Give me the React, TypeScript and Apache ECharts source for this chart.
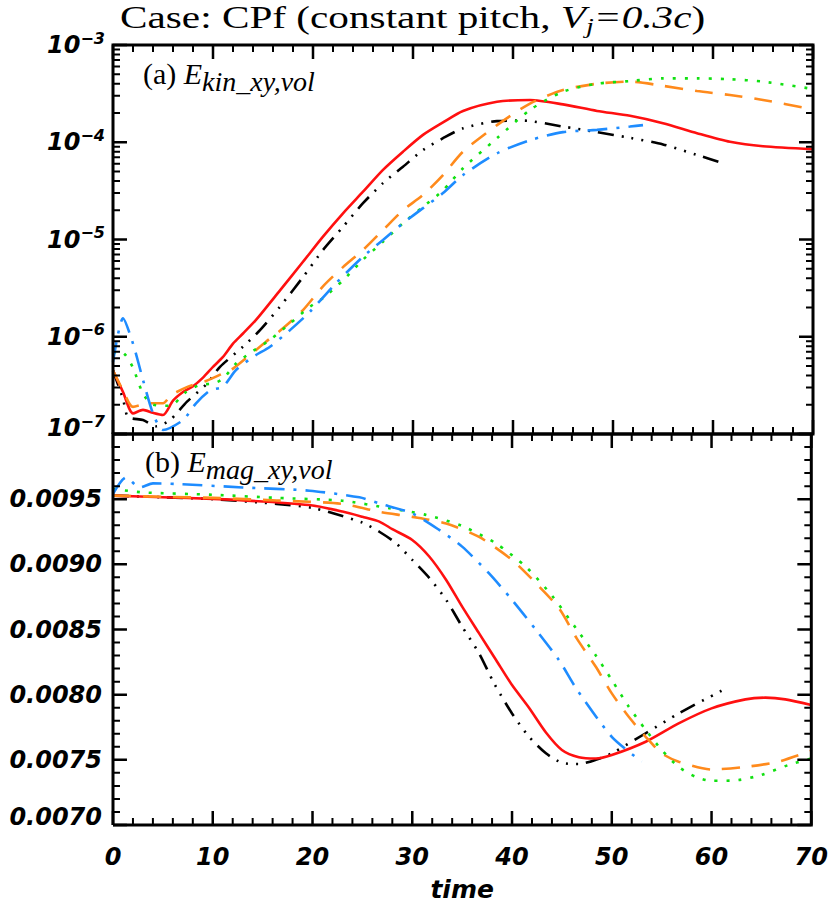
import React, { useEffect, useRef } from "react";
import * as echarts from "echarts";

// ---------- Panel (a): E_kin_xy,vol (log scale) ----------
const kinRedTime = [0, 1, 2, 3, 4, 5, 6, 7, 8, 9, 10, 11, 12, 13, 14.3, 16.7, 19, 21, 23, 25, 27, 29, 31, 33, 35, 38.4, 41.7, 45, 48.4, 51.7, 55, 58.4, 61.7, 65, 70];
const kinRed = [4.5e-7, 2.7e-7, 1.63e-7, 1.77e-7, 1.65e-7, 1.57e-7, 2.2e-7, 2.7e-7, 3.1e-7, 3.8e-7, 4.9e-7, 6.2e-7, 8.5e-7, 1.08e-6, 1.49e-6, 3.0e-6, 5.9e-6, 1.07e-5, 1.86e-5, 3.1e-5, 5.2e-5, 8.0e-5, 1.19e-4, 1.6e-4, 2.1e-4, 2.61e-4, 2.72e-4, 2.45e-4, 2.1e-4, 1.87e-4, 1.57e-4, 1.24e-4, 1.01e-4, 9.1e-5, 8.5e-5];

const kinBlackTime = [0, 1, 1.5, 3, 4.3, 5.7, 7.4, 9.4, 10.7, 13, 14.7, 16.7, 19, 21, 23, 25, 27, 29, 31, 33, 35, 38.4, 41, 45, 48.4, 51.7, 55, 58.4, 61];
const kinBlack = [4.5e-7, 2.3e-7, 1.5e-7, 1.39e-7, 1.2e-7, 1.39e-7, 2.15e-7, 3.3e-7, 4.9e-7, 7.9e-7, 1.17e-6, 2.04e-6, 4.1e-6, 7.8e-6, 1.35e-5, 2.36e-5, 3.8e-5, 5.6e-5, 8.3e-5, 1.1e-4, 1.39e-4, 1.65e-4, 1.67e-4, 1.45e-4, 1.27e-4, 1.11e-4, 9.5e-5, 7.4e-5, 6.1e-5];

const kinOrangeTime = [0, 1, 2, 3.6, 5, 5.8, 7.5, 9.3, 11, 12, 13.7, 15.3, 17, 19, 21, 23, 25, 27, 29, 31, 33, 35, 38.4, 41.7, 45, 48.4, 51.7, 55, 58.4, 61.7, 65, 70];
const kinOrange = [4.5e-7, 2.8e-7, 1.9e-7, 2.07e-7, 2.07e-7, 2.5e-7, 3.07e-7, 3.5e-7, 4.2e-7, 4.7e-7, 6.5e-7, 8.9e-7, 1.22e-6, 1.88e-6, 3.3e-6, 5.2e-6, 7.8e-6, 1.25e-5, 2.0e-5, 2.87e-5, 4.6e-5, 8.0e-5, 1.5e-4, 2.5e-4, 3.44e-4, 4.0e-4, 4.2e-4, 3.8e-4, 3.36e-4, 3.06e-4, 2.72e-4, 2.18e-4];

const kinGreenTime = [0, 0.7, 1.3, 2, 3, 4, 5.7, 7.3, 8.7, 10, 11, 12.3, 13.7, 15.7, 17.7, 19.7, 21, 23, 25, 27, 29, 31, 33, 35, 38.4, 41.7, 45, 48.4, 51.7, 55, 58.4, 61.7, 65, 70];
const kinGreen = [6.8e-7, 7.1e-7, 6.4e-7, 4.8e-7, 2.6e-7, 2.0e-7, 1.95e-7, 2.7e-7, 3.2e-7, 3.3e-7, 3.7e-7, 5.3e-7, 6.8e-7, 9.3e-7, 1.37e-6, 2.04e-6, 2.5e-6, 3.8e-6, 6.2e-6, 9.5e-6, 1.47e-5, 2.17e-5, 3.2e-5, 5.4e-5, 1.1e-4, 2.15e-4, 3.31e-4, 4.0e-4, 4.26e-4, 4.54e-4, 4.54e-4, 4.45e-4, 4.2e-4, 3.53e-4];

const kinBlueTime = [0, 1, 2, 3, 4, 5, 7, 8.3, 9.7, 11, 12.3, 14, 15.7, 17.7, 19.7, 22.3, 25, 27, 29, 31, 33, 35, 38.4, 41.7, 45, 48.4, 51.7, 53];
const kinBlue = [5.5e-7, 1.55e-6, 8.5e-7, 3.6e-7, 1.63e-7, 1.1e-7, 1.39e-7, 2.07e-7, 2.8e-7, 3.07e-7, 4.55e-7, 6.2e-7, 7.9e-7, 1.17e-6, 1.81e-6, 3.55e-6, 6.65e-6, 9.9e-6, 1.47e-5, 2.1e-5, 3.0e-5, 4.6e-5, 7.7e-5, 1.05e-4, 1.27e-4, 1.34e-4, 1.45e-4, 1.5e-4];

// ---------- Panel (b): E_mag_xy,vol (linear scale) ----------
const magRedTime = [0, 5, 10, 15, 20, 23, 25, 26.7, 28, 30, 31.7, 33.4, 35, 36.7, 38.4, 40, 41.7, 43.4, 45, 46.7, 48.4, 50, 53.4, 56.7, 60, 63.4, 65.4, 67.4, 70];
const magRed = [0.009527, 0.009515, 0.009502, 0.009482, 0.009451, 0.009405, 0.009365, 0.009328, 0.00927, 0.009187, 0.00906, 0.00888, 0.008675, 0.00847, 0.008266, 0.008074, 0.0079, 0.00771, 0.007576, 0.00752, 0.00751, 0.007537, 0.007639, 0.00778, 0.007895, 0.007964, 0.007977, 0.007964, 0.007921];

const magBlackTime = [0, 5, 10, 16.4, 20, 23, 25, 26.7, 28.4, 30, 31.7, 33.4, 35, 36.7, 38.2, 40, 41.7, 43.4, 45, 46.7, 48.4, 50, 53.4, 56.7, 61];
const magBlack = [0.009527, 0.009515, 0.0095, 0.009464, 0.009433, 0.00937, 0.00932, 0.00925, 0.00916, 0.009034, 0.008896, 0.008727, 0.008522, 0.008317, 0.008087, 0.007856, 0.007677, 0.00755, 0.007478, 0.007468, 0.0075, 0.00755, 0.007704, 0.007856, 0.00803];

const magOrangeTime = [0, 5, 10, 16.4, 23, 26.7, 30, 33.4, 36.7, 40, 42.4, 44.7, 46.5, 48.4, 50, 51.7, 53.4, 55, 56.7, 60, 63.4, 66.7, 70];
const magOrange = [0.009527, 0.009518, 0.00951, 0.00949, 0.009464, 0.009403, 0.009364, 0.009313, 0.00921, 0.009034, 0.008855, 0.008663, 0.00843, 0.008214, 0.00801, 0.00783, 0.007677, 0.00755, 0.007486, 0.007426, 0.007446, 0.007486, 0.00757];

const magGreenTime = [0, 3, 10, 16.4, 23, 27.7, 31.4, 35, 38.4, 41.4, 44, 46.5, 48.4, 50, 51.7, 53.4, 55, 56.7, 58.4, 60, 62.7, 65, 67.7, 70];
const magGreen = [0.009579, 0.009552, 0.009534, 0.00951, 0.009488, 0.00943, 0.009379, 0.009294, 0.00916, 0.00898, 0.00876, 0.0085, 0.0083, 0.008113, 0.007908, 0.00773, 0.007576, 0.007446, 0.00737, 0.007339, 0.007345, 0.007384, 0.00746, 0.00751];

const magBlueTime = [0, 1.3, 2.7, 4, 6.3, 13, 19.7, 24.7, 26.7, 30, 32.7, 35, 37.7, 40, 42.4, 44.7, 46.5, 50, 53];
const magBlue = [0.00954, 0.009667, 0.00959, 0.009621, 0.009617, 0.00959, 0.009565, 0.009514, 0.009467, 0.00939, 0.009264, 0.009136, 0.00893, 0.008727, 0.008497, 0.008266, 0.00804, 0.007677, 0.007486];

// ---------- Axis ranges and ticks ----------
const timeRange = [0, 70];
const timeMajorTicks = [0, 10, 20, 30, 40, 50, 60, 70];
const timeMinorTicks = [2, 4, 6, 8, 12, 14, 16, 18, 22, 24, 26, 28, 32, 34, 36, 38, 42, 44, 46, 48, 52, 54, 56, 58, 62, 64, 66, 68];
const kinRange = [1e-7, 1e-3];
const kinMajorTicks = [1e-7, 1e-6, 1e-5, 1e-4, 1e-3];
const kinDecadeBases = [1e-7, 1e-6, 1e-5, 1e-4];
const kinMinorMultipliers = [2, 3, 4, 5, 6, 7, 8, 9];
const magRange = [0.007, 0.01];
const magInterval = 0.0005;
const magMajorTicks = [0.007, 0.0075, 0.008, 0.0085, 0.009, 0.0095, 0.01];
const magMinorTicks = [
  0.0071, 0.0072, 0.0073, 0.0074, 0.0076, 0.0077, 0.0078, 0.0079, 0.0081, 0.0082, 0.0083, 0.0084,
  0.0086, 0.0087, 0.0088, 0.0089, 0.0091, 0.0092, 0.0093, 0.0094, 0.0096, 0.0097, 0.0098, 0.0099,
];

const COLORS: Record<string, string> = { red: "#ff1010", black: "#000000", orange: "#ff8a1c", green: "#11e011", blue: "#1e8cff" };
const DASH: Record<string, any> = {
  red: "solid",
  black: [16, 8, 2, 8, 2, 8, 2, 8],
  orange: [18, 12],
  green: [3, 9],
  blue: [20, 9, 3, 9],
};

const SANS = "'DejaVu Sans', sans-serif";
const SERIF = "'Liberation Serif', 'Times New Roman', serif";

// layout (pixels)
const GRID_LEFT = 113;
const GRID_W = 700;
const GRID0_TOP = 45;
const GRID0_H = 389;
const GRID1_TOP = 434;
const GRID1_H = 391;
const MAJOR_LEN = 14;
const MINOR_LEN = 7;

const zip = (t: number[], v: number[]) => t.map((x, i) => [x, v[i]]);

export default function App() {
  const ref = useRef<HTMLDivElement>(null);

  useEffect(() => {
    if (!ref.current) return;
    const chart = echarts.init(ref.current, undefined, { renderer: "svg" });

    const labelFont = () => ({ fontFamily: SANS, fontStyle: "italic", fontWeight: "bold", fontSize: 24, color: "#000" });
    const hidden = { axisLine: { show: false, onZero: false }, axisTick: { show: false }, splitLine: { show: false }, minorTick: { show: false } };

    const kinMinorTicks: number[] = [];
    kinDecadeBases.forEach((b) => kinMinorMultipliers.forEach((m) => kinMinorTicks.push(b * m)));

    // pixel -> data-unit helpers for tick lengths
    const xUnitsPerPx = (timeRange[1] - timeRange[0]) / GRID_W;
    const kinDecadesPerPx = Math.log10(kinRange[1] / kinRange[0]) / GRID0_H;
    const magUnitsPerPx = (magRange[1] - magRange[0]) / GRID1_H;
    const GAP = ["-", "-"];

    const kinUp = (v: number, px: number) => v * Math.pow(10, px * kinDecadesPerPx);
    const magUp = (v: number, px: number) => v + px * magUnitsPerPx;

    const xTickData = (ticks: number[], len: number, yr: number[], up: (v: number, px: number) => number) => {
      const d: any[] = [];
      ticks.forEach((t) => {
        d.push([t, yr[0]], [t, up(yr[0], len)], GAP);
        d.push([t, yr[1]], [t, up(yr[1], -len)], GAP);
      });
      return d;
    };
    const yTickData = (ticks: number[], len: number) => {
      const d: any[] = [];
      ticks.forEach((v) => {
        d.push([timeRange[0], v], [timeRange[0] + len * xUnitsPerPx, v], GAP);
        d.push([timeRange[1], v], [timeRange[1] - len * xUnitsPerPx, v], GAP);
      });
      return d;
    };
    const frameData = (yr: number[]) => [
      [timeRange[0], yr[0]],
      [timeRange[1], yr[0]],
      [timeRange[1], yr[1]],
      [timeRange[0], yr[1]],
      [timeRange[0], yr[0]],
    ];

    const deco = (idx: number, data: any[], width: number) => ({
      type: "line",
      xAxisIndex: idx,
      yAxisIndex: idx,
      data,
      showSymbol: false,
      symbol: "none",
      connectNulls: false,
      clip: false,
      silent: true,
      z: 5,
      lineStyle: { color: "#000", width, cap: "butt", join: "miter" },
    });

    const line = (key: string, idx: number, data: number[][]) => ({
      type: "line",
      xAxisIndex: idx,
      yAxisIndex: idx,
      data,
      showSymbol: false,
      symbol: "none",
      smooth: 0.25,
      z: 3,
      lineStyle: { color: COLORS[key], width: 2.6, type: DASH[key] },
    });

    const subRich = {
      n: { fontFamily: SERIF, fontSize: 30, color: "#000" },
      e: { fontFamily: SERIF, fontSize: 30, fontStyle: "italic", color: "#000" },
      sub: { fontFamily: SERIF, fontSize: 28, fontStyle: "italic", color: "#000", padding: [17, 0, 0, 0] },
    };

    chart.setOption({
      animation: false,
      grid: [
        { left: GRID_LEFT, top: GRID0_TOP, width: GRID_W, height: GRID0_H },
        { left: GRID_LEFT, top: GRID1_TOP, width: GRID_W, height: GRID1_H },
      ],
      xAxis: [
        { type: "value", gridIndex: 0, min: timeRange[0], max: timeRange[1], interval: 10, ...hidden, axisLabel: { show: false } },
        {
          type: "value",
          gridIndex: 1,
          min: timeRange[0],
          max: timeRange[1],
          interval: 10,
          ...hidden,
          axisLabel: { show: true, margin: 20, ...labelFont() },
          name: "time",
          nameLocation: "middle",
          nameGap: 52,
          nameTextStyle: { ...labelFont(), fontSize: 25 },
        },
      ],
      yAxis: [
        {
          type: "log",
          gridIndex: 0,
          min: kinRange[0],
          max: kinRange[1],
          ...hidden,
          axisLabel: {
            show: true,
            margin: 8,
            formatter: (v: number) => {
              const e = Math.round(Math.log10(v));
              const low = v <= kinRange[0] * 1.0001;
              return `{${low ? "bl" : "b"}|10}{${low ? "sl" : "s"}|\u2212${Math.abs(e)}}`;
            },
            rich: {
              b: labelFont(),
              s: { ...labelFont(), fontSize: 16, padding: [0, 0, 14, 0] },
              bl: { ...labelFont(), padding: [0, 0, 12, 0] },
              sl: { ...labelFont(), fontSize: 16, padding: [0, 0, 26, 0] },
            },
          },
        },
        {
          type: "value",
          gridIndex: 1,
          min: magRange[0],
          max: magRange[1],
          interval: magInterval,
          ...hidden,
          axisLabel: {
            show: true,
            margin: 11,
            showMaxLabel: false,
            formatter: (v: number) => (Math.abs(v - magRange[0]) < 1e-9 ? `{lo|${v.toFixed(4)}}` : v.toFixed(4)),
            ...labelFont(),
            rich: { lo: { ...labelFont(), padding: [0, 0, 16, 0] } },
          },
        },
      ],
      series: [
        line("black", 0, zip(kinBlackTime, kinBlack)),
        line("red", 0, zip(kinRedTime, kinRed)),
        line("orange", 0, zip(kinOrangeTime, kinOrange)),
        line("green", 0, zip(kinGreenTime, kinGreen)),
        line("blue", 0, zip(kinBlueTime, kinBlue)),
        line("black", 1, zip(magBlackTime, magBlack)),
        line("red", 1, zip(magRedTime, magRed)),
        line("orange", 1, zip(magOrangeTime, magOrange)),
        line("green", 1, zip(magGreenTime, magGreen)),
        line("blue", 1, zip(magBlueTime, magBlue)),
        // panel (a) frame and ticks
        deco(0, xTickData(timeMajorTicks, MAJOR_LEN, kinRange, kinUp), 2.5),
        deco(0, xTickData(timeMinorTicks, MINOR_LEN, kinRange, kinUp), 2),
        deco(0, yTickData(kinMajorTicks, MAJOR_LEN), 2.5),
        deco(0, yTickData(kinMinorTicks, MINOR_LEN), 2),
        deco(0, frameData(kinRange), 3),
        // panel (b) frame and ticks
        deco(1, xTickData(timeMajorTicks, MAJOR_LEN, magRange, magUp), 2.5),
        deco(1, xTickData(timeMinorTicks, MINOR_LEN, magRange, magUp), 2),
        deco(1, yTickData(magMajorTicks, MAJOR_LEN), 2.5),
        deco(1, yTickData(magMinorTicks, MINOR_LEN), 2),
        deco(1, frameData(magRange), 3),
      ],
      graphic: [
        {
          type: "text",
          x: 120,
          y: 18,
          scaleX: 1.33,
          style: {
            text: "{n|Case: CPf (constant pitch, }{e|V}{s|j}{e|=0.3c}{n|)}",
            verticalAlign: "middle",
            align: "left",
            rich: {
              n: { fontFamily: SERIF, fontSize: 31, color: "#000" },
              e: { fontFamily: SERIF, fontSize: 31, fontStyle: "italic", color: "#000" },
              s: { fontFamily: SERIF, fontSize: 21, fontStyle: "italic", color: "#000", padding: [15, 0, 0, 0] },
            },
          },
        },
        { type: "text", left: 143, top: 58, style: { text: "{n|(a) }{e|E}{sub|kin_xy,vol}", rich: subRich } },
        { type: "text", left: 145, top: 446, style: { text: "{n|(b) }{e|E}{sub|mag_xy,vol}", rich: subRich } },
      ],
    });

    return () => chart.dispose();
  }, []);

  return <div ref={ref} style={{ position: "absolute", left: 0, top: 0, width: 831, height: 905, background: "#fff" }} />;
}
